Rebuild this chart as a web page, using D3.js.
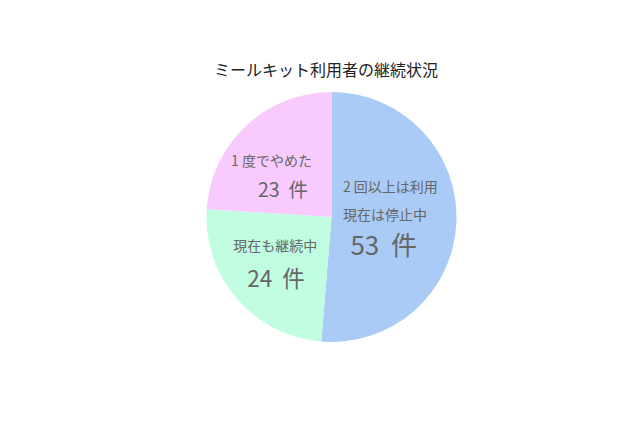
<!DOCTYPE html>
<html>
<head>
<meta charset="utf-8">
<script src="https://cdn.jsdelivr.net/npm/d3@7"></script>
<style>
  body { margin: 0; background: #fff; }
  text { font-family: "Noto Sans CJK JP", "Noto Sans", sans-serif; }
</style>
</head>
<body>
<div id="chart"></div>
<script>
// data
const title = "ミールキット利用者の継続状況";
const categories = ["2回以上は利用 現在は停止中", "現在も継続中", "1度でやめた"];
const counts = [53, 24, 23];
// slice sizes as drawn in the picture (share of the circle, %)
const sliceShares = [51.3, 24.7, 24.0];
const labelLines = [
    ["2 回以上は利用", "現在は停止中"],
    ["現在も継続中"],
    ["1 度でやめた"]
];
const colors = ["#a9cbf5", "#c0fde1", "#f9cafd"];

const width = 640, height = 426;
const cx = 331.5, cy = 217, radius = 125;

const svg = d3.select("#chart")
              .append("svg")
              .attr("width", width)
              .attr("height", height);

svg.append("rect")
   .attr("width", width)
   .attr("height", height)
   .attr("fill", "#fff");

// title
svg.append("text")
   .attr("x", 326)
   .attr("y", 76)
   .attr("text-anchor", "middle")
   .style("font-size", "16px")
   .attr("fill", "#222")
   .text(title);

const pie = d3.pie().sort(null).value(d => d.share);
const arc = d3.arc().innerRadius(0).outerRadius(radius);
const labelArc = d3.arc().innerRadius(radius * 0.5).outerRadius(radius * 0.5);

const data = categories.map((c, i) => ({
    name: c, count: counts[i], share: sliceShares[i], lines: labelLines[i], color: colors[i]
}));

const g = svg.append("g").attr("transform", `translate(${cx},${cy})`);

const arcs = pie(data);

g.selectAll("path.slice")
 .data(arcs)
 .enter()
 .append("path")
 .attr("class", "slice")
 .attr("d", arc)
 .attr("fill", d => d.data.color);

// label layout per slice: offsets from the centroid
const labelLayout = [
    {dx: -51, lines: [-27.5, 0.5], numDx: -43.5, numDy: 35, numSize: 26},
    {dx: -51, lines: [-7], numDx: -37, numDy: 28.8, numSize: 22.5},
    {dx: -57.7, lines: [-5.4], numDx: -30.7, numDy: 25.9, numSize: 19.5}
];

arcs.forEach((a, i) => {
    const [x, y] = labelArc.centroid(a);
    const L = labelLayout[i];
    a.data.lines.forEach((line, j) => {
        g.append("text")
         .attr("x", x + L.dx)
         .attr("y", y + L.lines[j])
         .style("font-size", "14px")
         .attr("fill", "#666")
         .text(line);
    });
    const num = g.append("text")
     .attr("x", x + L.numDx)
     .attr("y", y + L.numDy)
     .style("font-size", L.numSize + "px")
     .attr("fill", "#666");
    num.append("tspan").text(a.data.count);
    num.append("tspan").attr("dx", "0.45em").text("件");
});
</script>
</body>
</html>
